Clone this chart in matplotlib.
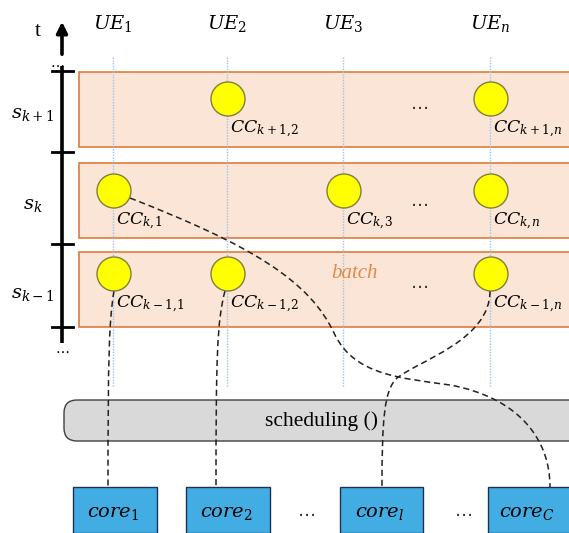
import matplotlib
matplotlib.use("Agg")
import matplotlib.pyplot as plt
from matplotlib.patches import Rectangle, Circle, FancyBboxPatch, PathPatch
from matplotlib.path import Path

plt.rcParams['mathtext.fontset'] = 'custom'
plt.rcParams['mathtext.it'] = 'DejaVu Serif:italic'
plt.rcParams['mathtext.rm'] = 'DejaVu Serif'
plt.rcParams['mathtext.bf'] = 'DejaVu Serif:bold'

# ---- diagram content ----
ue_labels = ['$UE_1$', '$UE_2$', '$UE_3$', '$UE_n$']
slot_labels = ['$s_{k+1}$', '$s_k$', '$s_{k-1}$']
# UE columns occupied in each slot (index into ue_labels) and their labels
slot_cols = [[1, 3], [0, 2, 3], [0, 1, 3]]
cc_labels = [[r'$CC_{k+1,\!2}$', r'$CC_{k+1,\!n}$'],
             [r'$CC_{k,\!1}$', r'$CC_{k,\!3}$', r'$CC_{k,\!n}$'],
             [r'$CC_{k-1,\!1}$', r'$CC_{k-1,\!2}$', r'$CC_{k-1,\!n}$']]
core_labels = ['$core_1$', '$core_2$', '$core_l$', '$core_C$']
sched_label = 'scheduling ()'
batch_label = 'batch'

# ---- layout (pixels) ----
W, H = 569, 533
ue_x = [113, 227, 343, 490]
band_y = [(72, 147), (163, 238), (252, 327)]
circ_y = [99, 191, 274]
tick_y = [71, 152, 244, 327]
core_x = [(73, 157), (186, 270), (340, 423), (488, 572)]
core_y = (487, 533)

fig = plt.figure(figsize=(W / 100, H / 100), dpi=100)
ax = fig.add_axes([0, 0, 1, 1])
ax.set_xlim(0, W)
ax.set_ylim(H, 0)
ax.axis('off')

# time axis
ax.plot([62, 62], [66, 343], color='black', lw=2.6, solid_capstyle='butt', zorder=3)
for ty in tick_y:
    ax.plot([52, 73], [ty, ty], color='black', lw=2.0, zorder=3)
ax.annotate('', xy=(62, 19), xytext=(62, 57),
            arrowprops=dict(arrowstyle='-|>', lw=2.6, color='black', mutation_scale=16))
ax.text(38, 31, 't', fontsize=15, family='Liberation Serif', ha='center', va='center')
ax.text(57, 63, '…', fontsize=10, ha='center', va='center')
ax.text(62, 349, '…', fontsize=10, ha='center', va='center')

# bands
for (y0, y1) in band_y:
    ax.add_patch(Rectangle((79, y0), 600, y1 - y0, facecolor='#FBE5D6',
                           edgecolor='#E07B39', lw=1.2, zorder=1))

# slot labels
for lab, (y0, y1) in zip(slot_labels, band_y):
    ax.text(33, (y0 + y1) / 2 + 4, lab, fontsize=14, ha='center', va='center')

# UE lines and labels
for x, lab in zip(ue_x, ue_labels):
    ax.plot([x, x], [57, 387], color='#9DC3E6', lw=1.0, ls=(0, (1, 1)), zorder=2)
    ax.text(x, 23, lab, fontsize=14, ha='center', va='center')

# scheduling box
ax.add_patch(FancyBboxPatch((64, 400), 560, 41, boxstyle='round,pad=0,rounding_size=13',
                            facecolor='#D9D9D9', edgecolor='#404040', lw=1.0, zorder=2))
ax.text(322, 421, sched_label, fontsize=15.5, family='Liberation Serif',
        ha='center', va='center', zorder=5)

# connection curves (dashed)
curves = [
    [(114, 291), (109, 320), (108, 360), (108, 487)],
    [(225, 291), (217, 320), (216, 360), (216, 487)],
    [(490, 291), (490, 340), (420, 360), (397, 378),
     (384, 390), (382, 420), (382, 487)],
    [(130, 198), (250, 245), (310, 280), (335, 335),
     (355, 375), (400, 378), (450, 385),
     (520, 398), (550, 440), (550, 487)],
]
for pts in curves:
    codes = [Path.MOVETO] + [Path.CURVE4] * (len(pts) - 1)
    ax.add_patch(PathPatch(Path(pts, codes), facecolor='none', edgecolor='#222222',
                           lw=1.1, ls=(0, (4, 2.5)), zorder=4))

# CC circles and labels
for si, cols in enumerate(slot_cols):
    for ci, col in enumerate(cols):
        cx, cy = ue_x[col] + 1, circ_y[si]
        ax.add_patch(Circle((cx, cy), 17, facecolor='#FFFF00', edgecolor='#7F7F3F',
                            lw=1.0, zorder=5))
        ax.text(cx + 2, cy + 30, cc_labels[si][ci], fontsize=12.5, ha='left',
                va='center', zorder=6)

# ellipses in bands
for yy in [104, 201, 283]:
    ax.text(420, yy, '…', fontsize=13, ha='center', va='center', color='#333333')
ax.text(354, 274, batch_label, fontsize=15, family='Liberation Serif', style='italic',
        color='#E08A4A', ha='center', va='center', zorder=6)

# cores
for (x0, x1), lab in zip(core_x, core_labels):
    ax.add_patch(Rectangle((x0, core_y[0]), x1 - x0, core_y[1] - core_y[0],
                           facecolor='#41ADE3', edgecolor='#1F3050', lw=1.0, zorder=5))
    ax.text((x0 + min(x1, 569)) / 2 - 2, 512, lab, fontsize=14,
            ha='center', va='center', zorder=6)
for xx in [307, 464]:
    ax.text(xx, 511, '…', fontsize=13, ha='center', va='center', color='#333333')

fig.savefig('out.png', dpi=100)
